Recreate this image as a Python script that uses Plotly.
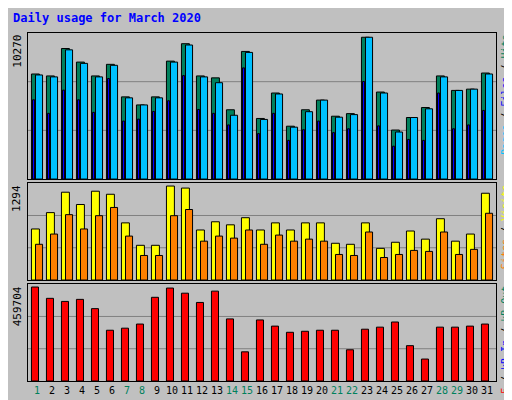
import plotly.graph_objects as go
from plotly.subplots import make_subplots

days = list(range(1, 32))
weekend = [1, 7, 8, 14, 15, 21, 22, 28, 29]

# values
hits = [7609, 7469, 9453, 8472, 7469, 8309, 5952, 5368, 5952, 8542, 9803, 7469, 7329, 5018, 9243,
        4388, 6232, 3828, 5018, 5718, 4551, 4738, 10270, 6302, 3548, 4458, 5181, 7469, 6419, 6512, 7679]
files = [7539, 7399, 9359, 8379, 7399, 8239, 5882, 5368, 5882, 8472, 9709, 7399, 6979, 4621, 9173,
         4318, 6162, 3758, 4878, 5718, 4481, 4668, 10270, 6232, 3408, 4458, 5088, 7399, 6419, 6512, 7609]
pages = [5740, 4760, 6440, 5740, 4830, 7280, 4200, 4340, 4900, 5670, 7490, 5040, 4760, 3920, 8050,
         3290, 4760, 2800, 3570, 4200, 3360, 3640, 7070, 3850, 2380, 2870, 2800, 6230, 3640, 3920, 4970]
visits = [703, 928, 1209, 1040, 1223, 1181, 787, 478, 478, 1294, 1266, 689, 802, 760, 858,
          689, 787, 689, 787, 787, 506, 492, 787, 436, 520, 675, 563, 844, 535, 633, 1195]
sites = [492, 633, 900, 703, 886, 999, 605, 338, 338, 886, 971, 535, 605, 577, 689,
         492, 619, 535, 563, 535, 352, 338, 661, 310, 352, 408, 394, 661, 352, 422, 919]
kbytes = [459704, 404340, 389240, 399310, 354010, 248310, 258380, 278510, 409370, 454670,
          429500, 384210, 439570, 303680, 142620, 298650, 268440, 238240, 243270, 248310,
          248310, 152680, 253340, 263410, 288580, 172810, 107380, 263410, 263410, 268440, 278510]

fig = make_subplots(rows=3, cols=1, shared_xaxes=True, vertical_spacing=0.012,
                    row_heights=[0.43, 0.285, 0.285])

line = dict(color="black", width=1)
fig.add_bar(x=days, y=hits, offset=-0.37, width=0.53, marker=dict(color="#00805C", line=line), row=1, col=1)
fig.add_bar(x=days, y=files, offset=-0.10, width=0.47, marker=dict(color="#00C0FF", line=line), row=1, col=1)
fig.add_bar(x=days, y=pages, offset=-0.30, width=0.14, marker=dict(color="#0000FF", line=line), row=1, col=1)
fig.add_bar(x=days, y=visits, offset=-0.37, width=0.53, marker=dict(color="#FFFF00", line=line), row=2, col=1)
fig.add_bar(x=days, y=sites, offset=-0.10, width=0.47, marker=dict(color="#FF8000", line=line), row=2, col=1)
fig.add_bar(x=days, y=kbytes, offset=-0.37, width=0.47, marker=dict(color="#FF0000", line=line), row=3, col=1)

tick_text = ["<span style='color:#00805C'>%d</span>" % d if d in weekend else str(d) for d in days]
for r, top in [(1, max(hits)), (2, max(visits)), (3, max(kbytes))]:
    fig.update_yaxes(range=[0, top * 1.03], showticklabels=False, showgrid=False, zeroline=False,
                     showline=True, linecolor="black", mirror=True, row=r, col=1)
    fig.update_xaxes(range=[0.4, 31.6], showgrid=False, showline=True, linecolor="black", mirror=True,
                     row=r, col=1)
    yref = "y domain" if r == 1 else "y%d domain" % r
    xref = "x domain" if r == 1 else "x%d domain" % r
    for f in (1 / 3, 2 / 3):
        fig.add_shape(type="line", xref=xref, yref=yref, x0=0, x1=1, y0=f, y1=f,
                      line=dict(color="#808080", width=1), layer="below")
    fig.add_annotation(xref="paper", yref=yref, x=-0.005, y=1, xanchor="right", yanchor="top",
                       text=str(top), textangle=-90, showarrow=False,
                       font=dict(size=11, color="black"))
fig.update_xaxes(tickmode="array", tickvals=days, ticktext=tick_text, ticks="", tickangle=0,
                 tickfont=dict(size=10), row=3, col=1)

legends = [
    ("y domain", "<span style='color:#00C0FF'>Pages</span> / <span style='color:#0000FF'>Files</span> / <span style='color:#00805C'>Hits</span>"),
    ("y2 domain", "<span style='color:#FF8000'>Sites</span> / <span style='color:#FFFF00'>Visits</span>"),
    ("y3 domain", "<span style='color:#FF0000'>kB F</span> / <span style='color:#0000FF'>kB In</span> / <span style='color:#00805C'>kB Out</span>"),
]
for yref, txt in legends:
    fig.add_annotation(xref="paper", yref=yref, x=1.003, y=1, xanchor="left", yanchor="top",
                       text=txt, textangle=-90, showarrow=False,
                       font=dict(size=10, color="black"))

fig.update_layout(
    width=512, height=400, barmode="overlay", showlegend=False,
    font=dict(family="DejaVu Sans Mono", size=11, color="black"),
    paper_bgcolor="#C0C0C0", plot_bgcolor="#C0C0C0",
    margin=dict(l=20, r=24, t=25, b=24),
    title=dict(text="<b>Daily usage for March 2020</b>", x=0.01, y=0.985, xanchor="left", yanchor="top",
               font=dict(size=12, color="#0000FF")),
)

fig.write_html("out.html")
